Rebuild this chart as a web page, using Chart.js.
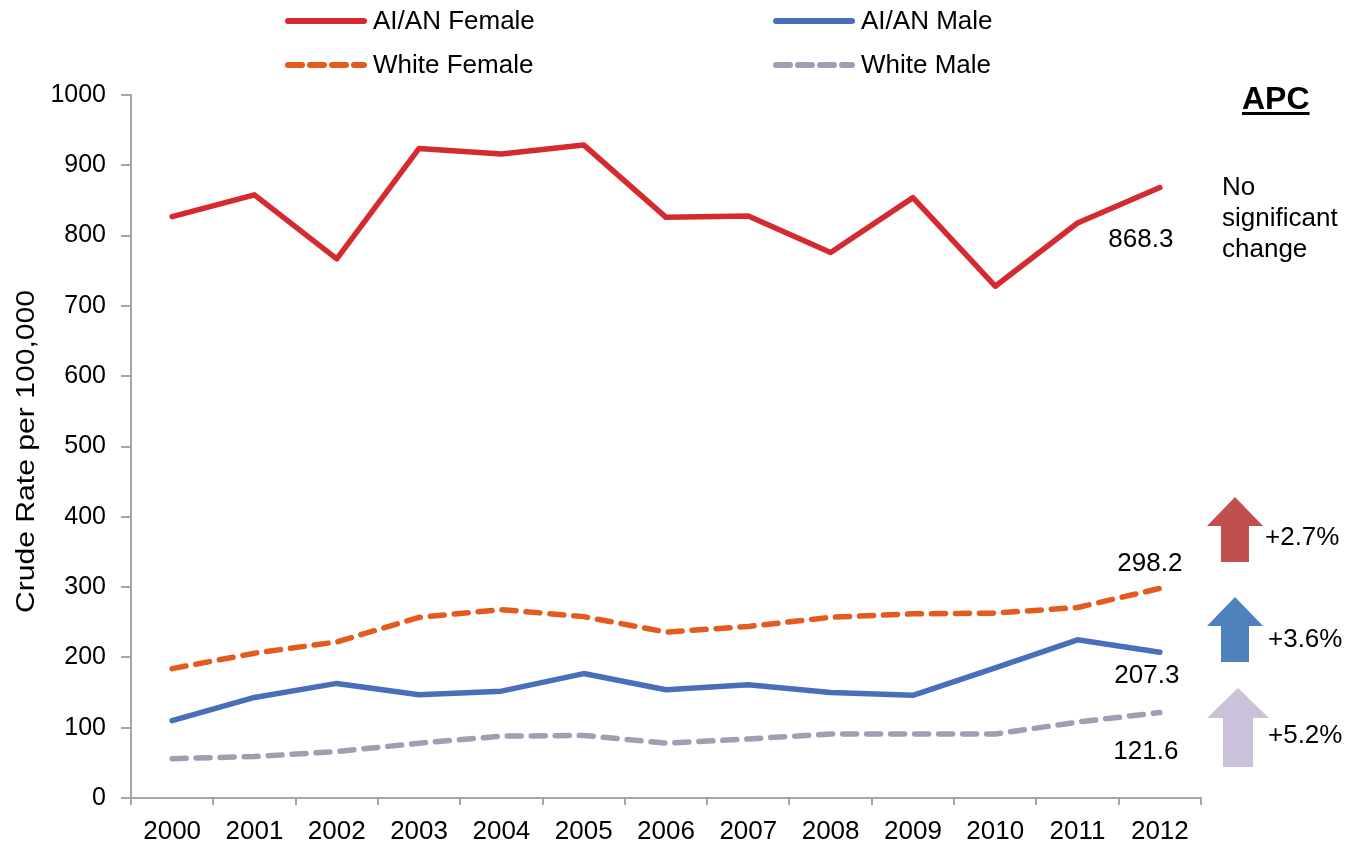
<!DOCTYPE html>
<html>
<head>
<meta charset="utf-8">
<script src="https://cdn.jsdelivr.net/npm/chart.js@4.4.1/dist/chart.umd.min.js"></script>
<style>
  html, body { margin: 0; padding: 0; background: #fff; }
  #wrap { width: 1358px; height: 848px; position: relative; }
</style>
</head>
<body>
<div id="wrap"><canvas id="rates"></canvas></div>
<script>
var years = ['2000', '2001', '2002', '2003', '2004', '2005', '2006', '2007', '2008', '2009', '2010', '2011', '2012'];
var aianFemale = [827, 858, 767, 924, 916, 929, 826, 828, 776, 854, 728, 818, 868.3];
var aianMale = [110, 143, 163, 147, 152, 177, 154, 161, 150, 146, 185, 225, 207.3];
var whiteFemale = [184, 206, 222, 257, 268, 258, 236, 244, 257, 262, 263, 271, 298.2];
var whiteMale = [56, 59, 66, 78, 88, 89, 78, 84, 91, 91, 91, 108, 121.6];
var yTicks = [0, 100, 200, 300, 400, 500, 600, 700, 800, 900, 1000];
var apcLabels = ['+2.7%', '+3.6%', '+5.2%'];

var FONT = "'Liberation Sans', Arial, sans-serif";
var axisGray = '#a6a6a6';

var colors = {
  aianF: '#d42a30',
  aianM: '#4a6fba',
  whiteF: '#e35b1f',
  whiteM: '#9e9fb4'
};

// legend, axis title and right-side notes, drawn on the canvas
var notesPlugin = {
  id: 'notes',
  afterDraw: function(chart) {
    var ctx = chart.ctx;
    var x = chart.scales.x, y = chart.scales.y;
    ctx.save();

    // y axis title (stretched a little, like the original)
    ctx.save();
    ctx.font = '26px ' + FONT;
    ctx.fillStyle = '#000';
    ctx.textAlign = 'center';
    ctx.textBaseline = 'alphabetic';
    var title = 'Crude Rate per 100,000';
    var tw = ctx.measureText(title).width;
    ctx.translate(33.5, 451.5);
    ctx.rotate(-Math.PI / 2);
    ctx.scale(323 / tw, 1);
    ctx.fillText(title, 0, 0);
    ctx.restore();

    // legend
    var items = [
      {label: 'AI/AN Female', color: colors.aianF, dash: [], lx: 288, ly: 21},
      {label: 'AI/AN Male', color: colors.aianM, dash: [], lx: 776, ly: 21},
      {label: 'White Female', color: colors.whiteF, dash: [14, 8], lx: 288, ly: 65},
      {label: 'White Male', color: colors.whiteM, dash: [14, 8], lx: 776, ly: 65}
    ];
    items.forEach(function(it) {
      ctx.beginPath();
      ctx.setLineDash(it.dash);
      ctx.lineWidth = 6;
      ctx.lineCap = 'round';
      ctx.strokeStyle = it.color;
      ctx.moveTo(it.lx, it.ly);
      ctx.lineTo(it.lx + 76, it.ly);
      ctx.stroke();
      ctx.setLineDash([]);
      ctx.fillStyle = '#000';
      ctx.font = '26px ' + FONT;
      ctx.textAlign = 'left';
      ctx.textBaseline = 'middle';
      ctx.fillText(it.label, it.lx + 85, it.ly + 1);
    });

    // end value labels
    var lastX = x.getPixelForValue(years.length - 1);
    ctx.font = '26px ' + FONT;
    ctx.textAlign = 'center';
    ctx.textBaseline = 'alphabetic';
    ctx.fillStyle = '#000';
    ctx.fillText('868.3', lastX - 19, y.getPixelForValue(aianFemale[12]) + 59);
    ctx.fillText('298.2', lastX - 10, y.getPixelForValue(whiteFemale[12]) - 17);
    ctx.fillText('207.3', lastX - 13, y.getPixelForValue(aianMale[12]) + 31);
    ctx.fillText('121.6', lastX - 14, y.getPixelForValue(whiteMale[12]) + 46);

    // APC header
    ctx.font = 'bold 32px ' + FONT;
    ctx.textAlign = 'left';
    ctx.fillText('APC', 1242, 109);
    var w = ctx.measureText('APC').width;
    ctx.fillRect(1242, 112, w, 3);

    ctx.font = '26px ' + FONT;
    ctx.fillText('No', 1222, 195);
    ctx.fillText('significant', 1222, 226);
    ctx.fillText('change', 1222, 257);

    // arrows
    function arrow(cx, tip, headY, bottom, headHalf, shaftHalf, fill) {
      ctx.beginPath();
      ctx.moveTo(cx, tip);
      ctx.lineTo(cx + headHalf, headY);
      ctx.lineTo(cx + shaftHalf, headY);
      ctx.lineTo(cx + shaftHalf, bottom);
      ctx.lineTo(cx - shaftHalf, bottom);
      ctx.lineTo(cx - shaftHalf, headY);
      ctx.lineTo(cx - headHalf, headY);
      ctx.closePath();
      ctx.fillStyle = fill;
      ctx.fill();
    }
    arrow(1235, 497, 526, 562, 28, 14, '#c0504d');
    arrow(1235, 597, 626, 662, 28, 14, '#4f81bd');
    arrow(1238, 688, 718, 767, 31, 15, '#ccc1da');

    ctx.fillStyle = '#000';
    ctx.font = '26px ' + FONT;
    ctx.textAlign = 'left';
    ctx.fillText(apcLabels[0], 1265, 545);
    ctx.fillText(apcLabels[1], 1268, 647);
    ctx.fillText(apcLabels[2], 1268, 743);

    ctx.restore();
  }
};

function line(label, data, color, dash) {
  return {
    label: label,
    data: data,
    borderColor: color,
    backgroundColor: color,
    borderWidth: 5.5,
    borderDash: dash,
    borderCapStyle: 'round',
    borderJoinStyle: 'round',
    pointRadius: 0,
    tension: 0,
    fill: false
  };
}

new Chart(document.getElementById('rates'), {
  type: 'line',
  data: {
    labels: years,
    datasets: [
      line('AI/AN Female', aianFemale, colors.aianF, []),
      line('AI/AN Male', aianMale, colors.aianM, []),
      line('White Female', whiteFemale, colors.whiteF, [14, 10]),
      line('White Male', whiteMale, colors.whiteM, [14, 10])
    ]
  },
  options: {
    responsive: true,
    maintainAspectRatio: false,
    animation: false,
    layout: { padding: { top: 95, right: 157, bottom: 0, left: 0 } },
    plugins: {
      legend: { display: false },
      tooltip: { enabled: false }
    },
    scales: {
      x: {
        offset: true,
        grid: {
          offset: true,
          drawOnChartArea: false,
          drawTicks: true,
          tickLength: 7,
          color: axisGray,
          lineWidth: 2
        },
        border: { color: axisGray, width: 2 },
        ticks: {
          color: '#000',
          font: { family: FONT, size: 26 },
          padding: 11,
          maxRotation: 0,
          autoSkip: false
        },
        afterFit: function(scale) { scale.height = 50; }
      },
      y: {
        min: 0,
        max: 1000,
        afterBuildTicks: function(scale) {
          scale.ticks = yTicks.map(function(v) { return {value: v}; });
        },
        grid: {
          drawOnChartArea: false,
          drawTicks: true,
          tickLength: 10,
          color: axisGray,
          lineWidth: 2
        },
        border: { color: axisGray, width: 2 },
        ticks: {
          color: '#000',
          font: { family: FONT, size: 25 },
          padding: 15,
          callback: function(v) { return String(v); }
        },
        afterFit: function(scale) { scale.width = 131; }
      }
    }
  },
  plugins: [notesPlugin]
});
</script>
</body>
</html>
